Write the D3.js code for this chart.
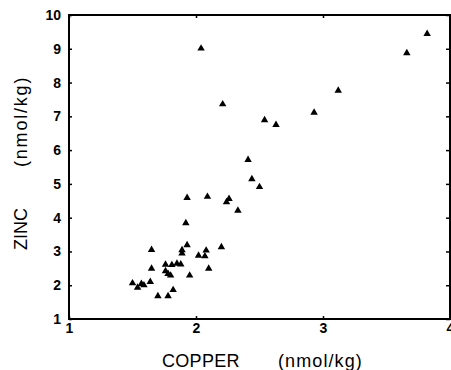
<!DOCTYPE html>
<html>
<head>
<meta charset="utf-8">
<script src="https://cdn.jsdelivr.net/npm/d3@7"></script>
<style>
  html, body { margin: 0; padding: 0; background: #fff; }
  svg { display: block; font-family: "Liberation Sans", Arial, Helvetica, sans-serif; }
</style>
</head>
<body>
<svg id="chart" width="451" height="370"></svg>
<script>
// Data
const copper = [1.50, 1.54, 1.57, 1.59, 1.64, 1.65, 1.65, 1.70, 1.76, 1.76, 1.78, 1.80, 1.78, 1.82, 1.81, 1.85, 1.88, 1.89, 1.89, 1.93, 1.92, 1.93, 1.95, 2.02, 2.07, 2.08, 2.10, 2.09, 2.20, 2.24, 2.26, 2.33, 2.41, 2.44, 2.50, 2.04, 2.21, 2.54, 2.63, 2.93, 3.12, 3.66, 3.82];
const zinc   = [2.06, 1.93, 2.04, 2.00, 2.10, 3.05, 2.49, 1.68, 2.61, 2.42, 2.34, 2.29, 1.68, 1.86, 2.60, 2.64, 2.62, 3.04, 2.94, 3.19, 3.84, 4.59, 2.29, 2.88, 2.86, 3.03, 2.49, 4.62, 3.13, 4.46, 4.56, 4.21, 5.71, 5.14, 4.91, 9.01, 7.36, 6.89, 6.75, 7.11, 7.76, 8.87, 9.44];
const xTicks = [1, 2, 3, 4];
const yTicks = [1, 2, 3, 4, 5, 6, 7, 8, 9, 10];
const xTitle = "COPPER";
const xUnit = "(nmol/kg)";
const yTitle = "ZINC";
const yUnit = "(nmol/kg)";

const svg = d3.select("#chart");
const mLeft = 69, mRight = 450, mTop = 15, mBottom = 319;

const x = d3.scaleLinear().domain([1, 4]).range([mLeft, mRight]);
const y = d3.scaleLinear().domain([1, 10]).range([mBottom, mTop]);

// Axes with inward ticks
const styleAxis = g => {
  g.select(".domain").remove();
  g.selectAll(".tick line").attr("stroke", "#000").attr("stroke-width", 1.5);
  g.selectAll(".tick text")
    .attr("fill", "#000")
    .style("font-size", "14px")
    .style("font-weight", "bold")
    .style("font-family", '"Liberation Sans", Arial, sans-serif');
};

svg.append("g")
  .attr("transform", `translate(${mLeft},0)`)
  .call(d3.axisLeft(y).tickValues(yTicks).tickFormat(d3.format("d")).tickSizeInner(-3).tickSizeOuter(0).tickPadding(8))
  .call(styleAxis);

svg.append("g")
  .attr("transform", `translate(0,${mBottom})`)
  .call(d3.axisBottom(x).tickValues(xTicks).tickFormat(d3.format("d")).tickSizeInner(-3).tickSizeOuter(0).tickPadding(4))
  .call(styleAxis);

svg.append("g")
  .attr("transform", `translate(${mRight},0)`)
  .call(d3.axisRight(y).tickValues(yTicks).tickFormat("").tickSizeInner(-4).tickSizeOuter(0))
  .call(styleAxis);

svg.append("g")
  .attr("transform", `translate(0,${mTop})`)
  .call(d3.axisTop(x).tickValues(xTicks).tickFormat("").tickSizeInner(-3).tickSizeOuter(0))
  .call(styleAxis);

// Frame
svg.append("rect")
  .attr("x", mLeft).attr("y", mTop)
  .attr("width", mRight - mLeft).attr("height", mBottom - mTop)
  .attr("fill", "none").attr("stroke", "#000").attr("stroke-width", 2);

// Points
const tri = d3.symbol().type(d3.symbolTriangle).size(24);
svg.append("g")
  .selectAll("path")
  .data(copper.map((c, i) => [c, zinc[i]]))
  .join("path")
  .attr("d", tri)
  .attr("transform", d => `translate(${x(d[0])},${y(d[1])})`)
  .attr("fill", "#000");

// Axis titles
svg.append("text")
  .attr("x", 162).attr("y", 367)
  .style("font-size", "18px").style("letter-spacing", "0.3px")
  .text(xTitle);
svg.append("text")
  .attr("x", 278).attr("y", 367)
  .style("font-size", "18px").style("letter-spacing", "1.1px")
  .text(xUnit);

svg.append("text")
  .attr("transform", "translate(27,250) rotate(-90)")
  .style("font-size", "18px")
  .text(yTitle);
svg.append("text")
  .attr("transform", "translate(27,167) rotate(-90)")
  .style("font-size", "18px").style("letter-spacing", "1.8px")
  .text(yUnit);
</script>
</body>
</html>
